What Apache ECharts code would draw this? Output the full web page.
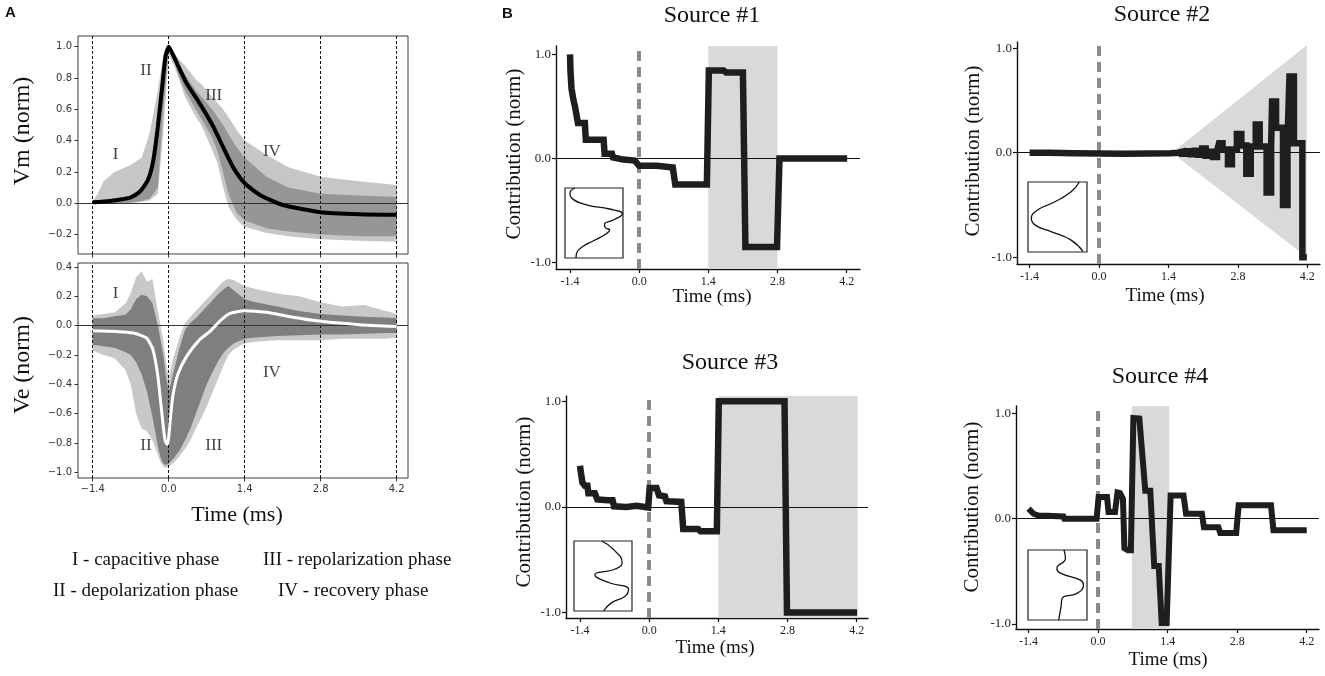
<!DOCTYPE html>
<html><head><meta charset="utf-8">
<script src="https://cdn.jsdelivr.net/npm/echarts@6/dist/echarts.min.js"></script>
<style>html,body{margin:0;padding:0;background:#fff}#c{width:1325px;height:676px}</style>
</head><body><div id="c"></div>
<script>
// ---------- tick labels ----------
const timeTicks = [-1.4, 0, 1.4, 2.8, 4.2];
const vmTicks = [-0.2, 0, 0.2, 0.4, 0.6, 0.8, 1.0];
const veTicks = [-1.0, -0.8, -0.6, -0.4, -0.2, 0, 0.2, 0.4];
const contribTicks = [-1, 0, 1];

// ---------- Panel A: Vm ----------
const vmTime = [-1.4, -1.3, -1.2, -1.0, -0.7, -0.5, -0.35, -0.2, -0.1, 0.0, 0.1, 0.2, 0.3, 0.5, 0.6, 0.8, 0.9, 1.0, 1.1, 1.25, 1.4, 1.8, 2.2, 2.8, 3.5, 4.2];
const vmOuterHi = [0.01, 0.064, 0.14, 0.2, 0.245, 0.29, 0.45, 0.72, 0.94, 1.0, 0.96, 0.915, 0.88, 0.79, 0.76, 0.68, 0.64, 0.6, 0.55, 0.47, 0.40, 0.31, 0.23, 0.17, 0.14, 0.117];
const vmOuterLo = [0, 0, 0, 0, 0, 0.01, 0.02, 0.06, 0.45, 0.95, 0.88, 0.78, 0.68, 0.55, 0.5, 0.34, 0.255, 0.106, -0.02, -0.106, -0.15, -0.19, -0.21, -0.23, -0.24, -0.245];
const vmInnerHi = [0.005, 0.01, 0.02, 0.03, 0.05, 0.1, 0.2, 0.55, 0.88, 0.99, 0.93, 0.88, 0.82, 0.72, 0.68, 0.6, 0.55, 0.5, 0.44, 0.36, 0.29, 0.17, 0.1, 0.06, 0.05, 0.04];
const vmInnerLo = [0, 0, 0, 0, 0.005, 0.015, 0.03, 0.1, 0.6, 0.97, 0.9, 0.8, 0.72, 0.6, 0.54, 0.42, 0.33, 0.2, 0.06, -0.06, -0.11, -0.16, -0.18, -0.2, -0.21, -0.21];
const vmMeanTime = [-1.4, -1.08, -0.71, -0.53, -0.38, -0.28, -0.20, -0.12, -0.06, 0.0, 0.11, 0.33, 0.57, 0.82, 1.0, 1.18, 1.40, 1.68, 2.10, 2.8, 3.52, 4.2];
const vmMean = [0.006, 0.015, 0.036, 0.074, 0.15, 0.28, 0.49, 0.745, 0.936, 1.0, 0.925, 0.766, 0.638, 0.49, 0.36, 0.234, 0.128, 0.053, -0.011, -0.057, -0.07, -0.074];
const phaseNames = ['I', 'II', 'III', 'IV'];
const vmPhaseT = [-0.98, -0.42, 0.83, 1.90];
const vmPhaseV = [0.31, 0.85, 0.69, 0.33];

// ---------- Panel A: Ve ----------
const veTime = [-1.4, -1.2, -1.0, -0.8, -0.7, -0.6, -0.5, -0.4, -0.3, -0.2, -0.15, -0.1, -0.05, 0.0, 0.1, 0.2, 0.3, 0.4, 0.5, 0.6, 0.7, 0.8, 0.9, 1.0, 1.1, 1.2, 1.4, 1.6, 2.0, 2.4, 2.8, 3.2, 3.6, 4.0, 4.2];
const veOuterHi = [0.07, 0.08, 0.09, 0.15, 0.22, 0.33, 0.37, 0.3, 0.32, 0.1, 0.0, -0.1, -0.25, -0.35, -0.2, -0.08, 0.02, 0.06, 0.1, 0.14, 0.18, 0.22, 0.26, 0.3, 0.32, 0.31, 0.27, 0.25, 0.22, 0.2, 0.16, 0.13, 0.14, 0.1, 0.08];
const veOuterLo = [-0.17, -0.2, -0.22, -0.3, -0.4, -0.6, -0.7, -0.72, -0.78, -0.88, -0.93, -0.96, -0.97, -0.96, -0.93, -0.89, -0.84, -0.78, -0.7, -0.63, -0.55, -0.46, -0.37, -0.28, -0.2, -0.16, -0.12, -0.11, -0.1, -0.1, -0.1, -0.09, -0.09, -0.09, -0.08];
const veDenseHi = [0.05, 0.05, 0.064, 0.075, 0.11, 0.18, 0.21, 0.2, 0.155, 0.0, -0.1, -0.2, -0.35, -0.45, -0.3, -0.15, -0.03, 0.02, 0.05, 0.09, 0.13, 0.17, 0.21, 0.245, 0.27, 0.24, 0.18, 0.16, 0.13, 0.1, 0.08, 0.07, 0.06, 0.055, 0.05];
const veDenseLo = [-0.13, -0.14, -0.15, -0.18, -0.2, -0.25, -0.33, -0.45, -0.62, -0.82, -0.9, -0.94, -0.95, -0.94, -0.9, -0.85, -0.78, -0.7, -0.6, -0.5, -0.4, -0.32, -0.25, -0.19, -0.15, -0.12, -0.09, -0.08, -0.07, -0.065, -0.06, -0.06, -0.055, -0.05, -0.05];
const veMeanTime = [-1.4, -0.96, -0.65, -0.41, -0.29, -0.20, -0.12, -0.07, -0.03, 0.0, 0.04, 0.08, 0.17, 0.33, 0.57, 0.76, 0.94, 1.12, 1.40, 1.80, 2.29, 2.8, 3.52, 4.2];
const veMean = [-0.034, -0.039, -0.05, -0.084, -0.164, -0.345, -0.618, -0.777, -0.81, -0.76, -0.6, -0.47, -0.33, -0.209, -0.095, -0.039, 0.03, 0.082, 0.102, 0.091, 0.057, 0.03, 0.007, -0.005];
const vePhaseT = [-0.98, -0.42, 0.83, 1.90];
const vePhaseV = [0.22, -0.82, -0.82, -0.32];

// ---------- Panel B sources (vertex lists) ----------
const s1Time = [-1.4, -1.39, -1.37, -1.33, -1.30, -1.26, -1.24, -1.10, -1.08, -0.72, -0.70, -0.55, -0.53, -0.32, -0.09, 0.0, 0.36, 0.38, 0.68, 0.73, 1.37, 1.41, 1.71, 1.76, 2.10, 2.15, 2.79, 2.84, 4.21];
const s1Val = [1.0, 0.83, 0.67, 0.56, 0.5, 0.49, 0.34, 0.34, 0.18, 0.18, 0.045, 0.045, 0.01, -0.01, -0.02, -0.07, -0.07, -0.085, -0.085, -0.25, -0.25, 0.845, 0.845, 0.825, 0.825, -0.85, -0.85, 0.0, 0.0];
const s1Shade = [1.4, 2.8];

// Source #2 as step breakpoints (value held until the next time)
const s2Time = [-1.4, -1.0, -0.5, 0.5, 1.45, 1.6, 1.68, 1.77, 1.85, 1.93, 2.0, 2.08, 2.15, 2.23, 2.3, 2.38, 2.42, 2.49, 2.6, 2.68, 2.78, 2.87, 2.97, 3.06, 3.16, 3.24, 3.38, 3.47, 3.49, 3.57, 3.71, 3.8, 3.84, 3.93, 4.1, 4.19];
const s2Val = [0.0, -0.005, -0.01, -0.005, 0.0, 0.01, -0.01, 0.015, -0.015, 0.02, -0.02, 0.04, -0.03, 0.01, -0.04, 0.02, 0.09, 0.03, -0.11, 0.03, 0.18, 0.07, -0.2, 0.06, 0.27, 0.06, -0.38, 0.06, 0.49, 0.24, -0.5, 0.1, 0.73, 0.09, -1.0, -1.0];
const s2ConeTime = [1.47, 4.19, 4.19];
const s2ConeVal = [0.0, 1.03, -1.0];

const s3Time = [-1.4, -1.38, -1.35, -1.30, -1.25, -1.23, -1.10, -1.05, -0.83, -0.74, -0.71, -0.46, -0.25, -0.02, 0.01, 0.15, 0.2, 0.32, 0.35, 0.65, 0.69, 0.99, 1.04, 1.37, 1.41, 2.74, 2.79, 4.21];
const s3Val = [0.39, 0.32, 0.23, 0.2, 0.2, 0.13, 0.13, 0.07, 0.063, 0.063, 0.006, 0.0, 0.01, -0.006, 0.18, 0.18, 0.11, 0.10, 0.054, 0.047, -0.21, -0.21, -0.23, -0.23, 1.0, 1.0, -1.0, -1.0];
const s3Shade = [1.4, 4.22];

const s4Time = [-1.4, -1.30, -1.20, -1.03, -0.70, -0.68, -0.03, 0.01, 0.18, 0.21, 0.34, 0.39, 0.44, 0.50, 0.53, 0.60, 0.66, 0.71, 0.83, 0.95, 1.05, 1.13, 1.22, 1.28, 1.38, 1.46, 1.72, 1.77, 2.09, 2.13, 2.42, 2.46, 2.78, 2.83, 3.48, 3.53, 4.20];
const s4Val = [0.095, 0.047, 0.03, 0.028, 0.022, 0.0, 0.0, 0.205, 0.205, 0.063, 0.063, 0.25, 0.244, 0.19, -0.28, -0.30, -0.30, 0.955, 0.95, 0.266, 0.266, -0.45, -0.45, -0.99, -0.99, 0.22, 0.22, 0.047, 0.047, -0.08, -0.08, -0.136, -0.136, 0.127, 0.127, -0.11, -0.11];
const s4Shade = [0.68, 1.43];

// ---------- insets (horizontal position u, vertical position v from top) ----------
const inset1U = [0.17, 0.086, 0.11, 0.37, 0.77, 0.99, 0.85, 0.68, 0.7, 0.77, 0.7, 0.5, 0.3, 0.2, 0.19];
const inset1V = [0, 0.07, 0.14, 0.24, 0.3, 0.37, 0.45, 0.52, 0.57, 0.6, 0.66, 0.75, 0.84, 0.93, 1.0];
const inset2U = [0.87, 0.73, 0.44, 0.16, 0.057, 0.13, 0.39, 0.73, 0.93];
const inset2V = [0, 0.14, 0.29, 0.4, 0.52, 0.62, 0.71, 0.83, 0.99];
const inset3U = [0.48, 0.68, 0.83, 0.71, 0.36, 0.39, 0.62, 0.94, 0.88, 0.65, 0.51];
const inset3V = [0, 0.12, 0.31, 0.4, 0.48, 0.52, 0.6, 0.69, 0.79, 0.88, 1.0];
const inset4U = [0.61, 0.635, 0.49, 0.55, 0.89, 0.94, 0.83, 0.58, 0.56, 0.52];
const inset4V = [0, 0.12, 0.26, 0.33, 0.43, 0.5, 0.62, 0.69, 0.81, 1.0];

// ================= build =================
const SERIF = 'Liberation Serif';
const SANS = 'DejaVu Sans';
const pairs = (t, v) => t.map((x, i) => [x, v[i]]);
const mpl = v => v.toFixed(1).replace('-', '\u2212');

function band(ax, xs, lo, hi, color, z) {
  return {
    type: 'custom', xAxisIndex: ax, yAxisIndex: ax, z: z, silent: true,
    data: xs.map((x, i) => [x, lo[i], hi[i]]),
    renderItem: function (params, api) {
      if (params.dataIndex !== 0) return null;
      const pts = [];
      for (let i = 0; i < xs.length; i++) pts.push(api.coord([xs[i], hi[i]]));
      for (let i = xs.length - 1; i >= 0; i--) pts.push(api.coord([xs[i], lo[i]]));
      return { type: 'polygon', shape: { points: pts }, style: { fill: color } };
    }
  };
}
function poly(ax, xs, ys, color, z) {
  return {
    type: 'custom', xAxisIndex: ax, yAxisIndex: ax, z: z, silent: true,
    data: xs.map((x, i) => [x, ys[i]]),
    renderItem: function (params, api) {
      if (params.dataIndex !== 0) return null;
      const pts = xs.map((x, i) => api.coord([x, ys[i]]));
      return { type: 'polygon', shape: { points: pts }, style: { fill: color } };
    }
  };
}

const grid = [
  { left: 78, top: 36, width: 330, height: 218, show: true, borderColor: '#3a3a3a', borderWidth: 1 },
  { left: 78, top: 263, width: 330, height: 215, show: true, borderColor: '#3a3a3a', borderWidth: 1 },
  { left: 556, top: 46, width: 304, height: 223 },
  { left: 1017, top: 42, width: 303, height: 222 },
  { left: 566, top: 396, width: 302, height: 222 },
  { left: 1016, top: 406, width: 303, height: 223 },
  { left: 565, top: 188, width: 58, height: 70, show: true, borderColor: '#222', borderWidth: 1.2, backgroundColor: '#fff' },
  { left: 1028, top: 182, width: 59, height: 70, show: true, borderColor: '#222', borderWidth: 1.2, backgroundColor: '#fff' },
  { left: 574, top: 541, width: 58, height: 70, show: true, borderColor: '#222', borderWidth: 1.2, backgroundColor: '#fff' },
  { left: 1028, top: 550, width: 59, height: 70, show: true, borderColor: '#222', borderWidth: 1.2, backgroundColor: '#fff' }
];

function aX(gi, showLabel) {
  return { gridIndex: gi, type: 'value', min: -1.671, max: 4.408,
    axisLine: { show: false, onZero: false },
    axisTick: { show: true, customValues: timeTicks, length: 3.5, lineStyle: { color: '#333' } },
    axisLabel: { show: showLabel, customValues: timeTicks, formatter: mpl, fontFamily: SANS, fontSize: 10, color: '#333', margin: 6 },
    splitLine: { show: false } };
}
function aY(gi, min, max, ticks) {
  return { gridIndex: gi, type: 'value', min: min, max: max,
    axisLine: { show: false, onZero: false },
    axisTick: { show: true, customValues: ticks, length: 3.5, lineStyle: { color: '#333' } },
    axisLabel: { customValues: ticks, formatter: mpl, fontFamily: SANS, fontSize: 10, color: '#333', margin: 6 },
    splitLine: { show: false } };
}
function bX(gi, min, max) {
  return { gridIndex: gi, type: 'value', min: min, max: max,
    axisLine: { show: true, onZero: false, lineStyle: { color: '#111', width: 1.4 } },
    axisTick: { show: true, customValues: timeTicks, length: 4, lineStyle: { color: '#111', width: 1.2 } },
    axisLabel: { customValues: timeTicks, formatter: v => v.toFixed(1), fontFamily: SERIF, fontSize: 12, color: '#222', margin: 7 },
    splitLine: { show: false } };
}
function bY(gi, min, max) {
  return { gridIndex: gi, type: 'value', min: min, max: max,
    axisLine: { show: true, onZero: false, lineStyle: { color: '#111', width: 1.4 } },
    axisTick: { show: true, customValues: contribTicks, length: 4, lineStyle: { color: '#111', width: 1.2 } },
    axisLabel: { customValues: contribTicks, formatter: v => v.toFixed(1), fontFamily: SERIF, fontSize: 13, color: '#222', margin: 5 },
    splitLine: { show: false } };
}
function iX(gi) { return { gridIndex: gi, type: 'value', min: 0, max: 1, show: false }; }
function iY(gi) { return { gridIndex: gi, type: 'value', min: 0, max: 1, inverse: true, show: false }; }

const xAxis = [aX(0, false), aX(1, true), bX(2, -1.684, 4.47), bX(3, -1.654, 4.456), bX(4, -1.683, 4.43), bX(5, -1.653, 4.447), iX(6), iX(7), iX(8), iX(9)];
const yAxis = [aY(0, -0.324, 1.068, vmTicks), aY(1, -1.038, 0.427, veTicks), bY(2, -1.06, 1.08), bY(3, -1.065, 1.06), bY(4, -1.052, 1.05), bY(5, -1.047, 1.07), iY(6), iY(7), iY(8), iY(9)];

const aMarks = {
  symbol: 'none', silent: true, label: { show: false }, animation: false,
  data: timeTicks.map(x => ({ xAxis: x, lineStyle: { type: [3, 2], color: '#111', width: 1 } }))
    .concat([{ yAxis: 0, lineStyle: { type: 'solid', color: '#333', width: 1 } }])
};
const bMarks = {
  symbol: 'none', silent: true, label: { show: false }, animation: false,
  data: [
    { yAxis: 0, lineStyle: { type: 'solid', color: '#111', width: 1.2 } },
    { xAxis: 0, lineStyle: { type: [10, 6], color: '#8c8c8c', width: 4 } }
  ]
};
function shadeArea(r) {
  return { silent: true, itemStyle: { color: '#d9d9db' }, data: [[{ xAxis: r[0] }, { xAxis: r[1] }]] };
}
function trace(ax, t, v, shade, width, step) {
  const s = { type: 'line', xAxisIndex: ax, yAxisIndex: ax, z: 10, data: pairs(t, v), showSymbol: false, silent: true,
    lineStyle: { color: '#1e1e1e', width: width, join: 'miter', miterLimit: 3, cap: 'butt' }, markLine: bMarks };
  if (step) s.step = step;
  if (shade) s.markArea = shadeArea(shade);
  return s;
}
function phase(ax, t, v) {
  return { type: 'scatter', xAxisIndex: ax, yAxisIndex: ax, z: 12, symbolSize: 0, silent: true,
    data: phaseNames.map((n, i) => ({ name: n, value: [t[i], v[i]] })),
    label: { show: true, position: 'inside', formatter: '{b}', fontFamily: SERIF, fontSize: 17, color: '#111' } };
}
function inset(ax, u, v) {
  return { type: 'line', xAxisIndex: ax, yAxisIndex: ax, z: 10, data: pairs(u, v), smooth: 0.5, showSymbol: false, silent: true,
    lineStyle: { color: '#111', width: 1.3 } };
}

const series = [
  band(0, vmTime, vmOuterLo, vmOuterHi, '#c6c6c6', 1),
  band(0, vmTime, vmInnerLo, vmInnerHi, '#969696', 2),
  { type: 'line', xAxisIndex: 0, yAxisIndex: 0, z: 10, data: pairs(vmMeanTime, vmMean), smooth: 0.2, showSymbol: false, silent: true,
    lineStyle: { color: '#000', width: 4 }, markLine: aMarks },
  phase(0, vmPhaseT, vmPhaseV),
  band(1, veTime, veOuterLo, veOuterHi, '#c8c8c8', 1),
  band(1, veTime, veDenseLo, veDenseHi, '#7f7f7f', 2),
  { type: 'line', xAxisIndex: 1, yAxisIndex: 1, z: 10, data: pairs(veMeanTime, veMean), smooth: 0.2, showSymbol: false, silent: true,
    lineStyle: { color: '#fff', width: 3 }, markLine: aMarks },
  phase(1, vePhaseT, vePhaseV),
  trace(2, s1Time, s1Val, s1Shade, 6.5),
  poly(3, s2ConeTime, s2ConeVal, '#d9d9db', 1),
  trace(3, s2Time, s2Val, null, 6.5, 'end'),
  trace(4, s3Time, s3Val, s3Shade, 6.5),
  trace(5, s4Time, s4Val, s4Shade, 6),
  inset(6, inset1U, inset1V),
  inset(7, inset2U, inset2V),
  inset(8, inset3U, inset3V),
  inset(9, inset4U, inset4V)
];

function txt(text, x, y, size, opts) {
  opts = opts || {};
  return { type: 'text', x: x, y: y, rotation: opts.rot || 0, silent: true, z: 20,
    style: { text: text, fontFamily: opts.family || SERIF, fontSize: size, fontWeight: opts.weight || 'normal',
      fill: '#111', textAlign: opts.align || 'center', textVerticalAlign: 'middle' } };
}
const R = Math.PI / 2;
const graphic = [
  txt('A', 5, 13, 15, { family: 'Liberation Sans', weight: 'bold', align: 'left' }),
  txt('B', 502, 14, 15, { family: 'Liberation Sans', weight: 'bold', align: 'left' }),
  txt('Vm (norm)', 23, 131, 24, { rot: R }),
  txt('Ve (norm)', 23, 365, 24, { rot: R }),
  txt('Time (ms)', 237, 515, 22),
  txt('I - capacitive phase', 72, 560, 19, { align: 'left' }),
  txt('III - repolarization phase', 263, 560, 19, { align: 'left' }),
  txt('II - depolarization phase', 53, 591, 19, { align: 'left' }),
  txt('IV - recovery phase', 278, 591, 19, { align: 'left' }),
  txt('Source #1', 712, 16, 24),
  txt('Source #2', 1162, 15, 24),
  txt('Source #3', 730, 363, 24),
  txt('Source #4', 1160, 377, 24),
  txt('Contribution (norm)', 514, 154, 21, { rot: R }),
  txt('Contribution (norm)', 973, 151, 21, { rot: R }),
  txt('Contribution (norm)', 524, 502, 21, { rot: R }),
  txt('Contribution (norm)', 972, 507, 21, { rot: R }),
  txt('Time (ms)', 712, 297, 19),
  txt('Time (ms)', 1165, 296, 19),
  txt('Time (ms)', 715, 648, 19),
  txt('Time (ms)', 1168, 660, 19)
];

const chart = echarts.init(document.getElementById('c'), null, { renderer: 'canvas', width: 1325, height: 676 });
chart.setOption({ animation: false, backgroundColor: '#fff', grid: grid, xAxis: xAxis, yAxis: yAxis, series: series, graphic: graphic });
</script></body></html>
